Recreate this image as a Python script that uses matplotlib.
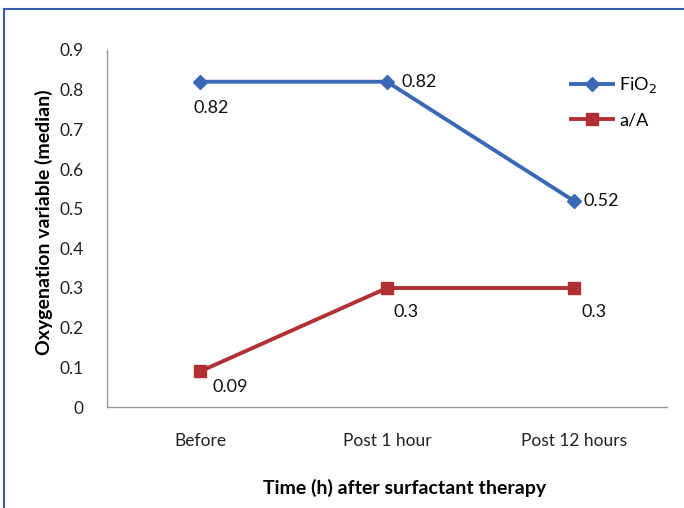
import matplotlib
matplotlib.use("Agg")
import matplotlib.pyplot as plt
from matplotlib.lines import Line2D

plt.rcParams['font.family'] = ['Lato', 'DejaVu Sans']

categories = ["Before", "Post 1 hour", "Post 12 hours"]
fio2 = [0.82, 0.82, 0.52]
aa = [0.09, 0.3, 0.3]
fio2_labels = ["0.82", "0.82", "0.52"]
aa_labels = ["0.09", "0.3", "0.3"]
yticks = [0, 0.1, 0.2, 0.3, 0.4, 0.5, 0.6, 0.7, 0.8, 0.9]

W, H = 684, 508
fig = plt.figure(figsize=(W/100, H/100), dpi=100)
ax = fig.add_axes([107/W, 1-407/H, (667-107)/W, (407-50)/H])

x = list(range(len(categories)))
blue = "#3B68B5"
red = "#B03033"
ax.plot(x, fio2, color=blue, lw=2.8, marker="D", ms=7, label="FiO$_2$")
ax.plot(x, aa, color=red, lw=2.8, marker="s", ms=9, label="a/A")

ax.set_xlim(-0.5, 2.5)
ax.set_ylim(0, 0.9)
ax.set_yticks(yticks)
ax.set_yticklabels(["0"] + [f"{v:.1f}" for v in yticks[1:]])
ax.set_xticks(x)
ax.set_xticklabels(categories)
ax.tick_params(length=0, labelsize=12.5, colors="#222222")
ax.tick_params(axis='y', pad=17)
ax.tick_params(axis='x', pad=19)
for s in ["top", "right"]:
    ax.spines[s].set_visible(False)
for s in ["left", "bottom"]:
    ax.spines[s].set_color("#999999")
    ax.spines[s].set_linewidth(1)

ax.set_ylabel("Oxygenation variable (median)", fontsize=14, fontweight="bold")
ax.set_xlabel("Time (h) after surfactant therapy", fontsize=14, fontweight="bold")
ax.xaxis.set_label_coords((405-107)/560, -(488-407)/357, transform=ax.transAxes)
ax.xaxis.label.set_va("center")
ax.yaxis.set_label_coords(-(107-44)/560, (407-222)/357, transform=ax.transAxes)
ax.yaxis.label.set_va("center")

fs = 13
offs_f = [(0.06, -0.065), (0.17, 0.0), (0.15, 0.0)]
for i, (dx, dy) in enumerate(offs_f):
    ax.text(x[i] + dx, fio2[i] + dy, fio2_labels[i], fontsize=fs, ha="center", va="center", color="#111111")
offs_a = [(0.16, -0.04), (0.1, -0.06), (0.11, -0.06)]
for i, (dx, dy) in enumerate(offs_a):
    ax.text(x[i] + dx, aa[i] + dy, aa_labels[i], fontsize=fs, ha="center", va="center", color="#111111")

leg = ax.legend(loc="upper left", bbox_to_anchor=(0.8, 0.975), frameon=False, fontsize=13,
                handlelength=2.3, labelspacing=0.95, handletextpad=0.35)

fig.add_artist(Line2D([3.5/W, 3.5/W], [0, 1-9/H], color="#3A5DA8", lw=1.5, transform=fig.transFigure))
fig.add_artist(Line2D([3.5/W, 1], [1-9/H, 1-9/H], color="#3A5DA8", lw=1.5, transform=fig.transFigure))

fig.savefig("out.png", dpi=100)
